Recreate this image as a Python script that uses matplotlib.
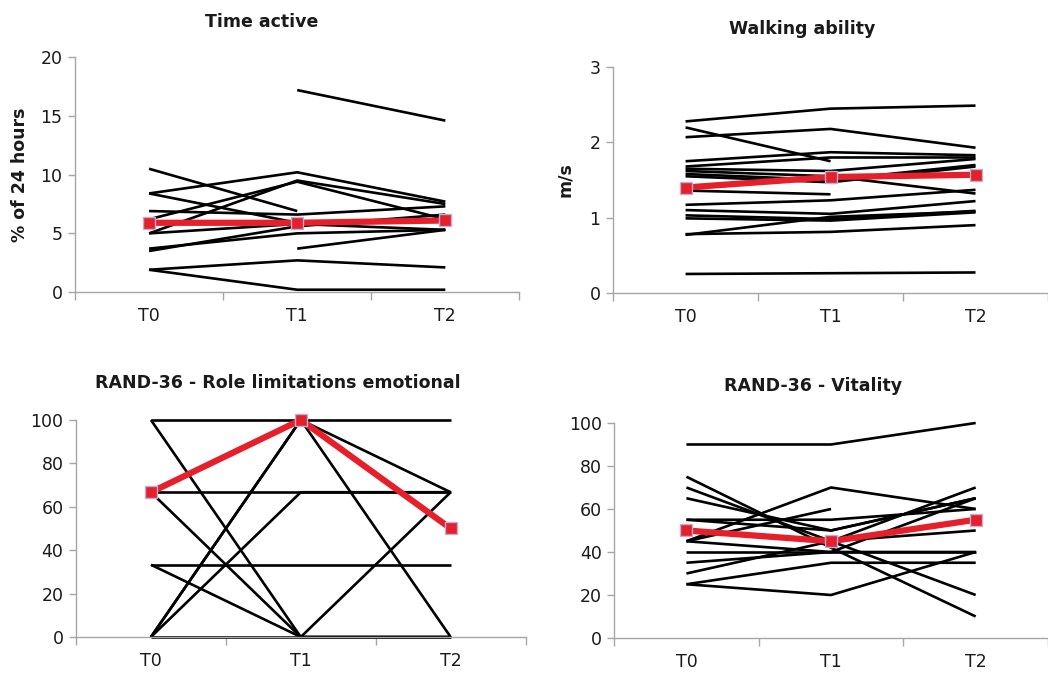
import numpy as np
import matplotlib
matplotlib.use("Agg")
import matplotlib.pyplot as plt
from matplotlib.ticker import FixedLocator, NullFormatter

nan = np.nan
timepoints = ["T0", "T1", "T2"]

# Time active (% of 24 hours)
time_active = [
    [10.5, 6.9, nan],
    [nan, 17.2, 14.6],
    [8.4, 10.2, 7.7],
    [8.4, 5.9, 6.0],
    [6.9, 6.6, 7.3],
    [5.0, 9.5, 7.5],
    [6.2, 9.4, 6.2],
    [3.7, 5.0, 5.3],
    [3.5, 5.6, 6.6],
    [5.0, 5.8, 5.3],
    [nan, 3.7, 5.3],
    [1.9, 2.7, 2.1],
    [1.9, 0.2, 0.2],
]
time_active_mean = [5.9, 5.9, 6.1]

# Walking ability (m/s)
walking = [
    [2.28, 2.45, 2.49],
    [2.20, 1.75, nan],
    [2.07, 2.18, 1.93],
    [1.75, 1.87, 1.83],
    [1.68, 1.80, 1.80],
    [1.65, 1.62, 1.78],
    [1.62, 1.55, 1.32],
    [1.58, 1.50, 1.70],
    [1.55, 1.47, 1.68],
    [1.36, 1.31, nan],
    [1.17, 1.23, 1.37],
    [1.10, 1.05, 1.22],
    [1.03, 0.98, 1.09],
    [0.99, 0.96, 1.07],
    [0.77, 1.01, 1.08],
    [0.78, 0.81, 0.90],
    [0.25, 0.26, 0.27],
]
walking_mean = [1.40, 1.54, 1.57]

# RAND-36 Role limitations emotional
role_emotional = [
    [100, 100, 100],
    [100, 0, 66.7],
    [66.7, 66.7, 66.7],
    [66.7, 0, 0],
    [33.3, 33.3, 33.3],
    [33.3, 0, 0],
    [0, 100, 66.7],
    [0, 100, 0],
    [0, 66.7, 66.7],
    [0, 0, 0],
]
role_emotional_mean = [66.7, 100, 50]

# RAND-36 Vitality
vitality = [
    [90, 90, 100],
    [75, 42, 10],
    [70, 45, 20],
    [65, 50, 65],
    [55, 55, 60],
    [55, 50, 65],
    [45, 70, 60],
    [45, 60, nan],
    [45, 40, 40],
    [40, 40, 40],
    [35, 40, 65],
    [30, 45, 70],
    [25, 35, 35],
    [25, 20, 40],
    [50, 45, 50],
]
vitality_mean = [50, 45, 55]

RED = "#e5202a"
GRAY = "#a6a6a6"
TXT = "#1a1a1a"

fig = plt.figure(figsize=(10.48, 6.73), dpi=100)

panels = [
    dict(rect=[0.0716, 0.566, 0.424, 0.349], data=time_active, mean=time_active_mean,
         ylim=(0, 20), yticks=[0, 5, 10, 15, 20], ylabel="% of 24 hours",
         title="Time active", tpos=(262, 22), ylpos=(20, 175)),
    dict(rect=[0.585, 0.565, 0.415, 0.335], data=walking, mean=walking_mean,
         ylim=(0, 3), yticks=[0, 1, 2, 3], ylabel="m/s",
         title="Walking ability", tpos=(802, 29), ylpos=(565, 180)),
    dict(rect=[0.0725, 0.0535, 0.429, 0.3225], data=role_emotional, mean=role_emotional_mean,
         ylim=(0, 100), yticks=[0, 20, 40, 60, 80, 100], ylabel=None,
         title="RAND-36 - Role limitations emotional", tpos=(278, 383), ylpos=None),
    dict(rect=[0.586, 0.052, 0.414, 0.3195], data=vitality, mean=vitality_mean,
         ylim=(0, 100), yticks=[0, 20, 40, 60, 80, 100], ylabel=None,
         title="RAND-36 - Vitality", tpos=(813, 386), ylpos=None),
]

W, H = 1048, 673
x = np.arange(len(timepoints))
for p in panels:
    ax = fig.add_axes(p["rect"])
    for row in p["data"]:
        ax.plot(x, row, color="black", lw=1.9, solid_capstyle="butt", zorder=2)
    ax.plot(x, p["mean"], color=RED, lw=4.5, marker="s", markersize=9,
            markerfacecolor=RED, markeredgecolor="#b8b0d8", markeredgewidth=1.0, zorder=3)
    ax.set_xlim(-0.5, 2.5)
    ax.set_ylim(*p["ylim"])
    ax.set_yticks(p["yticks"])
    ax.xaxis.set_major_locator(FixedLocator([-0.5, 0.5, 1.5, 2.5]))
    ax.xaxis.set_major_formatter(NullFormatter())
    ax.xaxis.set_minor_locator(FixedLocator(x))
    ax.set_xticklabels(timepoints, minor=True)
    ax.tick_params(axis="x", which="major", direction="out", length=6, color=GRAY, width=1)
    ax.tick_params(axis="x", which="minor", length=0, pad=11, labelsize=12.5, labelcolor=TXT)
    ax.tick_params(axis="y", direction="out", length=5, color=GRAY, width=1,
                   labelsize=12.5, labelcolor=TXT, pad=4)
    for s in ["top", "right"]:
        ax.spines[s].set_visible(False)
    for s in ["left", "bottom"]:
        ax.spines[s].set_color(GRAY)
        ax.spines[s].set_linewidth(1.0)
    for ln in ax.lines:
        ln.set_clip_on(False)
    fig.text(p["tpos"][0] / W, 1 - p["tpos"][1] / H, p["title"], ha="center", va="center",
             fontsize=12.5, fontweight="bold", color=TXT)
    if p["ylabel"]:
        fig.text(p["ylpos"][0] / W, 1 - p["ylpos"][1] / H, p["ylabel"], ha="center", va="center",
                 rotation=90, fontsize=12.5, fontweight="bold", color=TXT)

fig.savefig("out.png", dpi=100, facecolor="white")
